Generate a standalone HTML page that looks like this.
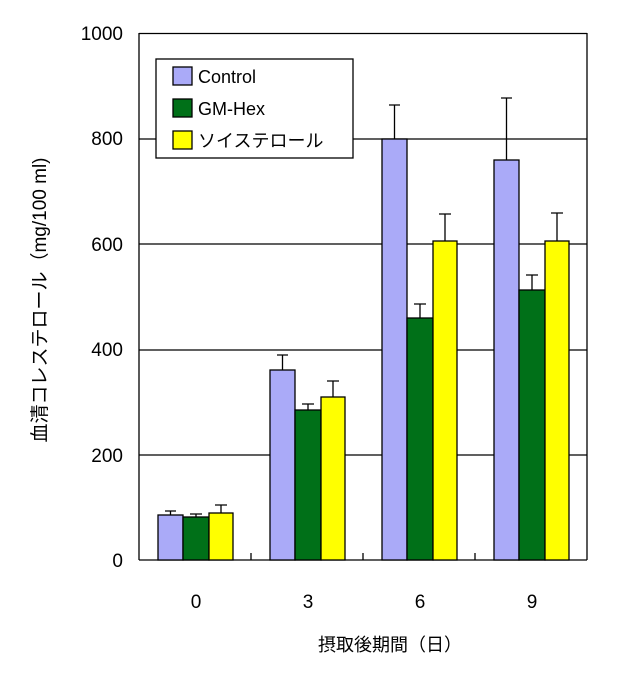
<!DOCTYPE html>
<html><head><meta charset="utf-8"><style>body{margin:0;background:#fff}</style></head><body>
<svg width="623" height="674" xmlns="http://www.w3.org/2000/svg" font-family="'Liberation Sans','Noto Sans CJK JP',sans-serif">
<rect width="623" height="674" fill="#fff"/>
<g stroke="#000" stroke-width="1.3">
<line x1="139" y1="33.5" x2="587" y2="33.5"/>
<line x1="139" y1="139" x2="587" y2="139"/>
<line x1="139" y1="244" x2="587" y2="244"/>
<line x1="139" y1="350" x2="587" y2="350"/>
<line x1="139" y1="455" x2="587" y2="455"/>
<line x1="139" y1="33" x2="139" y2="560"/>
<line x1="587" y1="33" x2="587" y2="560"/>
<line x1="139" y1="560" x2="587" y2="560"/>
<line x1="251" y1="553" x2="251" y2="560"/>
<line x1="363" y1="553" x2="363" y2="560"/>
<line x1="475" y1="553" x2="475" y2="560"/>
</g>
<g stroke="#000" stroke-width="1.3">
<rect x="158" y="515" width="25" height="45" fill="#aaaaf8"/>
<rect x="183" y="517" width="26" height="43" fill="#007018"/>
<rect x="209" y="513" width="24" height="47" fill="#ffff00"/>
<rect x="270" y="370" width="25" height="190" fill="#aaaaf8"/>
<rect x="295" y="410" width="26" height="150" fill="#007018"/>
<rect x="321" y="397" width="24" height="163" fill="#ffff00"/>
<rect x="382" y="139" width="25" height="421" fill="#aaaaf8"/>
<rect x="407" y="318" width="26" height="242" fill="#007018"/>
<rect x="433" y="241" width="24" height="319" fill="#ffff00"/>
<rect x="494" y="160" width="25" height="400" fill="#aaaaf8"/>
<rect x="519" y="290" width="26" height="270" fill="#007018"/>
<rect x="545" y="241" width="24" height="319" fill="#ffff00"/>
</g>
<g stroke="#000" stroke-width="1.3">
<path d="M170.5 515V511M165 511H176"/>
<path d="M196 517V514M190 514H202"/>
<path d="M221 513V505M215 505H227"/>
<path d="M282.5 370V355M277 355H288"/>
<path d="M308 410V404M302 404H314"/>
<path d="M333 397V381M327 381H339"/>
<path d="M394.5 139V105M389 105H400"/>
<path d="M420 318V304M414 304H426"/>
<path d="M445 241V214M439 214H451"/>
<path d="M506.5 160V98M501 98H512"/>
<path d="M532 290V275M526 275H538"/>
<path d="M557 241V213M551 213H563"/>
</g>
<rect x="156" y="59" width="197" height="99" fill="#fff" stroke="#000" stroke-width="1.3"/>
<rect x="173" y="67" width="19" height="18" fill="#aaaaf8" stroke="#000" stroke-width="1.3"/>
<rect x="173" y="99" width="19" height="18" fill="#007018" stroke="#000" stroke-width="1.3"/>
<rect x="173" y="131" width="19" height="18" fill="#ffff00" stroke="#000" stroke-width="1.3"/>
<g font-size="18" fill="#000">
<text x="198" y="83">Control</text>
<text x="198" y="115">GM-Hex</text>
<text x="198" y="147">ソイステロール</text>
</g>
<g font-size="19" fill="#000" text-anchor="end">
<text x="123" y="40">1000</text>
<text x="123" y="145">800</text>
<text x="123" y="251">600</text>
<text x="123" y="356">400</text>
<text x="123" y="462">200</text>
<text x="123" y="567">0</text>
</g>
<g font-size="19" fill="#000" text-anchor="middle">
<text x="196" y="608">0</text>
<text x="308" y="608">3</text>
<text x="420" y="608">6</text>
<text x="532" y="608">9</text>
<text x="390" y="651" font-size="18">摂取後期間（日）</text>
<text transform="translate(46,300) rotate(-90)" font-size="19">血清コレステロール（mg/100 ml)</text>
</g>
</svg>
</body></html>
